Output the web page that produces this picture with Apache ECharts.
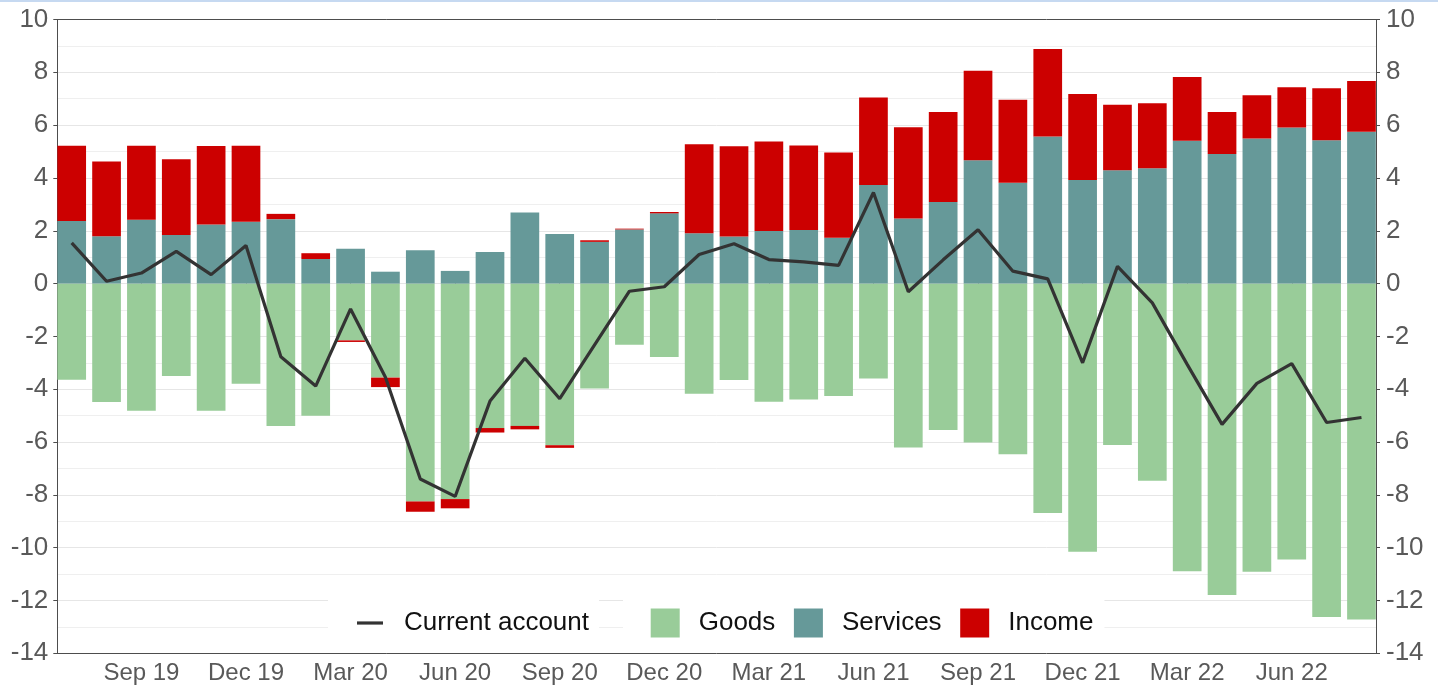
<!DOCTYPE html>
<html>
<head>
<meta charset="utf-8">
<script src="https://cdn.jsdelivr.net/npm/echarts@6/dist/echarts.min.js"></script>
<style>
html,body{margin:0;padding:0;background:#fff;}
#chart{width:1438px;height:686px;}
</style>
</head>
<body>
<div id="chart"></div>
<script>
const months = ['Jul 19','Aug 19','Sep 19','Oct 19','Nov 19','Dec 19',
  'Jan 20','Feb 20','Mar 20','Apr 20','May 20','Jun 20','Jul 20','Aug 20','Sep 20','Oct 20','Nov 20','Dec 20',
  'Jan 21','Feb 21','Mar 21','Apr 21','May 21','Jun 21','Jul 21','Aug 21','Sep 21','Oct 21','Nov 21','Dec 21',
  'Jan 22','Feb 22','Mar 22','Apr 22','May 22','Jun 22','Jul 22','Aug 22'];
const goods = [-3.64,-4.48,-4.82,-3.50,-4.82,-3.79,
  -5.39,-5.00,-2.15,-3.56,-8.25,-8.16,-5.47,-5.39,-6.12,-3.97,-2.32,-2.78,
  -4.17,-3.65,-4.47,-4.39,-4.26,-3.59,-6.21,-5.54,-6.02,-6.46,-8.69,-10.15,
  -6.11,-7.47,-10.89,-11.79,-10.91,-10.45,-12.63,-12.72];
const services = [2.37,1.79,2.42,1.84,2.24,2.34,
  2.44,0.93,1.32,0.45,1.26,0.48,1.20,2.69,1.88,1.58,2.05,2.66,
  1.91,1.78,1.99,2.03,1.74,3.73,2.46,3.09,4.67,3.82,5.57,3.92,
  4.29,4.37,5.41,4.91,5.49,5.91,5.43,5.75];
const income = [2.85,2.83,2.80,2.87,2.97,2.88,
  0.20,0.22,-0.06,-0.36,-0.39,-0.35,-0.17,-0.13,-0.10,0.06,0.03,0.05,
  3.37,3.42,3.39,3.20,3.22,3.32,3.46,3.41,3.39,3.14,3.31,3.26,
  2.48,2.46,2.41,1.59,1.64,1.52,1.97,1.92];
const currentAccount = [1.54,0.09,0.40,1.22,0.34,1.44,
  -2.77,-3.88,-0.96,-3.55,-7.40,-8.06,-4.45,-2.83,-4.36,-2.32,-0.29,-0.12,
  1.10,1.51,0.91,0.82,0.69,3.45,-0.31,0.90,2.04,0.47,0.18,-3.00,
  0.65,-0.73,-3.06,-5.33,-3.78,-3.03,-5.26,-5.07];
const yTicks = {min: -14, max: 10, step: 2};

const FONT = '"Liberation Sans", Arial, sans-serif';
const every3 = (i) => i % 3 === 2;
const frameAxis = (pos) => ({
  type: 'value', gridIndex: 1, min: 0, max: 1, position: pos,
  axisLine: {show: true, onZero: false, lineStyle: {color: '#4d4d4d', width: 1}},
  axisTick: {show: false}, axisLabel: {show: false}, splitLine: {show: false}
});
const yFrame = (pos, grid) => ({
  type: 'value', gridIndex: 1, min: yTicks.min, max: yTicks.max, interval: yTicks.step, position: pos,
  axisLine: {show: true, onZero: false, lineStyle: {color: '#4d4d4d', width: 1}},
  axisTick: {show: true, length: 4, lineStyle: {color: '#4d4d4d'}},
  axisLabel: {fontSize: 26, color: '#595959', margin: pos === 'left' ? 9 : 10, fontFamily: FONT},
  splitLine: {show: grid, lineStyle: {color: '#e6e6e6', width: 1}},
  minorTick: {show: false, splitNumber: 2},
  minorSplitLine: {show: grid, lineStyle: {color: '#efefef', width: 1}}
});

const chart = echarts.init(document.getElementById('chart'), null, {renderer: 'canvas'});
chart.setOption({
  animation: false,
  backgroundColor: '#fff',
  textStyle: {fontFamily: FONT},
  graphic: [{type: 'rect', shape: {x: 0, y: 0, width: 1438, height: 2}, style: {fill: '#c6d9f1'}, z: 10}],
  grid: [
    {left: 54.27, right: 59.1, top: 19.5, bottom: 32.7},
    {left: 57.3, right: 62, top: 19.5, bottom: 32.7}
  ],
  xAxis: [
    {
      type: 'category', gridIndex: 0, data: months, boundaryGap: true,
      axisLine: {show: false},
      axisTick: {show: true, interval: every3, alignWithLabel: true, length: 4, lineStyle: {color: '#4d4d4d'}},
      axisLabel: {interval: every3, fontSize: 24, color: '#595959', margin: 8, fontFamily: FONT},
      splitLine: {show: false}
    },
    frameAxis('bottom'),
    frameAxis('top')
  ],
  yAxis: [
    {type: 'value', gridIndex: 0, min: yTicks.min, max: yTicks.max, show: false, splitLine: {show: false}},
    yFrame('left', true),
    yFrame('right', false)
  ],
  legend: [
    {
      data: ['Current account'], left: 328, top: 594, padding: [12, 10, 12, 29],
      backgroundColor: '#fff', itemWidth: 26, itemHeight: 3.2, icon: 'rect',
      textStyle: {fontSize: 26, color: '#111', padding: [4, 0, 0, 16], fontFamily: FONT, lineHeight: 30}
    },
    {
      data: ['Goods', 'Services', 'Income'], left: 623, top: 594, padding: [12, 11, 12, 27.7],
      backgroundColor: '#fff', itemWidth: 29, itemHeight: 29, itemGap: 18.6, icon: 'rect',
      textStyle: {fontSize: 26, color: '#111', padding: [4, 0, 0, 14], fontFamily: FONT, lineHeight: 30}
    }
  ],
  series: [
    {name: 'Goods', type: 'bar', stack: 'ca', xAxisIndex: 0, yAxisIndex: 0, data: goods, barWidth: 28.7, itemStyle: {color: '#99cc99'}},
    {name: 'Services', type: 'bar', stack: 'ca', xAxisIndex: 0, yAxisIndex: 0, data: services, barWidth: 28.7, itemStyle: {color: '#669999'}},
    {name: 'Income', type: 'bar', stack: 'ca', xAxisIndex: 0, yAxisIndex: 0, data: income, barWidth: 28.7, itemStyle: {color: '#cc0000'}},
    {name: 'Current account', type: 'line', xAxisIndex: 0, yAxisIndex: 0, data: currentAccount, symbol: 'none',
     lineStyle: {color: '#333333', width: 3.2}, itemStyle: {color: '#333333'}, z: 5}
  ]
});
</script>
</body>
</html>
